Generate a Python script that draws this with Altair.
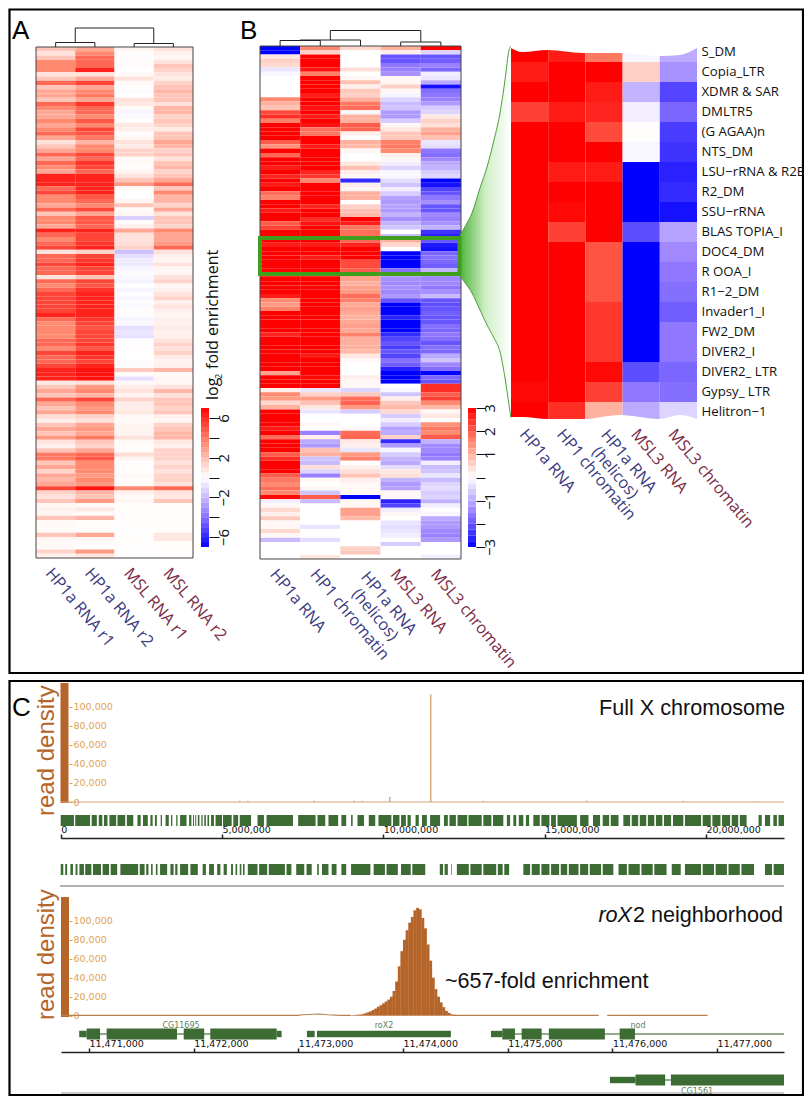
import altair as alt
import pandas as pd

W, H = 796, 1088
FX = alt.Scale(domain=[0, 812], range=[-8, 804], nice=False, zero=False)
FY = alt.Scale(domain=[0, 1105], range=[-8, 1097], nice=False, zero=False)
SANS = "Liberation Sans"
OPEN = "Open Sans"
DEJA = "DejaVu Sans"
BLUE_T, RED_T = "#3b3a80", "#7c2a44"
GREEN, BROWN, ORANGE = "#3d6b34", "#b5652a", "#dca352"
RAMP = ["#0000ff", "#9a80ff", "#ffffff", "#ff8a70", "#ff0000"]
HELI = "HP1a RNA (helicos)"

# ---------- panel A values (log2 fold enrichment) ----------
a_cols = ["HP1a RNA r1", "HP1a RNA r2", "\u00a0MSL RNA r1", "\u00a0\u00a0MSL RNA r2"]
a1 = [2,1,2,4,4,4, 1,2,5,2,3,3, 2,5,4,3,3,4, 3,4,5,3,1,2, 3,5,3,5,4,3, 7,7,7,5,6,4, 4,3,5,2,4,4,
      3,7,5,4,5,6, 1,5,5,6,5,5, 1,5,4,5,6,6, 6,6,6,7,5,4, 4,4,4, 5,5,4,6,5,5,6,7,7,7,
      .7,2,3,2,5,3,2,3,1.2,.5,2,3,2,3.5,1,.5,2,4.5,4.5,2,3,1.5,3,2.5,3,6,1.5,1,2,
      .3,.5,.3,2,.2,.2,.2,2,.3,.2,.2,1.5,.5]
a2 = [3,4,5,5,5,7, 1,3,6,3,4,4.5, 3,6.5,5,5,4,5.5, 4,6,5.5,4.5,2.5,4, 4,6,5,6.5,6,5, 7,7,7,7,7,5.5,
      5,4,6,3,5.5,5.5, 5,7,6,6,6.5,7, 1.5,6,6.5,7,6,6, 2,6,5.5,6.5,7,7, 7,7,7,7,6.5,6, 5.5,6,6,
      6,6.5,5.5,7,6.5,6,7,7.5,7.5,7.5,
      1,3.5,4,2.5,6,4,3.5,4,1.5,1,3,3.5,3,4.5,2,1.5,3,5,5.5,4,4,4,3.5,4,3.5,7.5,2.5,2,3.5,
      .2,.8,.2,2.5,.1,.1,.1,3,.3,.1,.1,3.5,.8]
a3 = [.3,.1,-.1,.1,.1,0, .2,1,.2,.1,-.1,0, 1,.8,.2,-.3,-.2,.1, .8,.5,.1,.3,1,.6, 1.5,1.5,.2,.2,.1,.4,
      1,2,3.5,.2,0,0, .3,2,.2,.3,-1.5,.1, .5,3,1,1,1.2,1.5, -2,-1,-.6,-.7,-.3,-.1, -.2,-.4,0,-.3,-.1,-.3,
      -.1,-.2,.1,-.1,-.3,-.2, -1,-.8,-1, -.1,0,.1,0,0,.1,-.1,1.8,.1,-1,
      .2,.6,1,.4,1.5,.6,.6,.8,.2,.2,.3,.4,.4,1,.2,.1,.1,1.2,.3,.1,.1,.1,.2,.1,.2,4,.5,.2,.3,
      .1,.1,.1,.1,.05,.05,.05,.05,.05,.05,.05,.05,.05]
a4 = [1,.5,.3,1,2,1.5, 1,.7,1.5,2,2.5,2, 2,1,2.5,2.5,1.5,2, 1.5,.7,2,2,3,2.5, 1.5,2,1,2,2.5,1.5,
      2,3,5,2,4,2.5, 2.5,1.5,3,1,2,2, 1.5,4,3,3,3.5,5, 1,.5,.3,1,.3,.3, 1,1.5,.3,.5,1,1.5,
      .5,1,.5,.3,.5,.5, .7,.5,.5, 1,1.5,1,1.5,.7,.4,.5,2.5,.2,.3,
      .3,1,2.5,1,2,2,1.5,2,.5,.3,1.5,2,2.5,2.5,.8,.5,1.5,1.5,1.5,1,1.5,1,1.5,1.5,1,5,1,.8,2,
      .1,.1,.1,.1,.1,.1,.1,.8,.8,.1,.1,.1,.1]
a_vals = [a1, a2, a3, a4]

# ---------- panel B values ----------
b_cols = ["HP1a RNA", "HP1 chromatin", HELI, "MSL3 RNA", "MSL3 chromatin"]
b1 = [-3,-3,.3,.6,.5,-.3,-.1,0,0,0, 0,0,1.5,1,.8,2.2,2.5,1.6,3,3, 3,3,2,1.4,3,1.9,3,3,2.7,3,
      2.6,3,2.7,3,1.8,1.6,3,3,2.7,3, 3,2,2.3,3,3,3,2.7,3,3,3, 3,3,3,3,3,3,3,3,2.7,1.5,
      1.3,1.6,3,3,3,3,3,2.6,3,3, 3,3,3,3,3,3,1.2,3,3,3, .2,1.5,1.3,.5,1,3,3,3,3,2.7,
      3,1.8,3,3,3,2,2.5,3,3,3, 2,1.7,1.5,1.8,1.5,2.9,-.2,.1,.5,.2, .7,.1,.1,.5,.1,-.8,0,0,0,0]
b2 = [1.5,.6,3,3,3,2.8,1.6,3,3,3, 3,2.7,3,3,2.8,3,2.7,3,2.8,1.8, 1.7,3,3,2.7,3,3,3,3,3,2.6,
      2.4,1.5,3,3,3,3,3,2.6,3,3, 2.5,2.8,3,3,3,3,2.7,3,3,2.7, 3,3,3,3,3,3,3,3,3,3,
      3,3,3,3,3,3,3,3,3,3, 3,3,2.7,3,3,3,3,2.9,3,3, -.3,.6,1.3,.8,.3,-.3,0,0,.1,0,
      -1.5,.2,-1,-1.2,.8,1,-.7,-.8,.4,-.5, -1.5,.1,0,.1,-.7,2,-.8,0,0,0, 0,0,-.3,0,0,-.4,0,0,0,.3]
b3 = [.5,0,0,0,0,.4,0,.1,.8,.2, .7,.6,1,1.7,1.8,-.1,1,1,2,1.9, .2,0,1,.9,.1,0,0,.3,.8,.2,
      .1,-2.5,.2,.1,1,1,0,.6,.8,.9, 3,2.7,1.7,1.8,1.8,1.9,2.6,3,3,3, 2.2,2.2,2,1.5,1.2,1,1.2,1.3,1.8,1.6,
      1.1,1.2,1.1,1,1.1,1.2,1.1,1.6,1,1, 1,.9,.3,.1,0,0,0,.2,.1,.1, -.5,.7,1.8,1.9,1.3,-.6,0,0,0,.1,
      1.8,1.9,.3,.2,-.3,1.3,1.6,0,.2,.4, .8,.2,.1,.1,.1,-3,.1,.1,1.2,1.2, .9,0,0,0,0,0,0,.6,.7,0]
b4 = [1,.2,-2,-2,-1.6,-1.5,-1.3,.1,.1,.6, .1,-.1,-.5,-.8,-.7,-1.2,-1.2,-.6,.1,.3, .7,.7,1.6,1.7,1.5,.2,.1,-.2,-.5,-.1,
      -.1,-.4,-.7,-.2,-.6,-1.1,-1.2,-1.1,-1.2,-.9, -1.3,-.9,-.7,0,-.8,1,.5,0,-3,-3, -3,-3,-1.7,-1.2,-1.3,-1.4,-1.3,-1.4,-1.2,-2,
      -3,-3,-3,-2.6,-3,-3,-3,-2.5,-2.2,-2, -2.3,-2,-2.2,-1.7,-1.9,-2.6,-3,-3,-3,0, -.1,-.7,.2,.7,.9,.5,-.6,-.2,-.6,-1.1,
      -1,.6,-2.5,-1.2,-.1,-.6,-.9,-1,-.4,.3, .4,-.9,-1.2,-1.1,.1,.1,-2.6,-2.2,-.2,.1, 0,-.3,-.4,-.3,-.2,0,-.6,0,0,0]
b5 = [3,-.5,-2,-1.9,-1.5,-1.8,-.2,-.3,-1,-2.8, -1.7,-1.6,-1.5,-1.2,-.6,-.5,.3,.6,.4,1, 1.2,.8,-.3,-.4,-1.6,-1.7,-1.4,-1,-.9,-.6,
      -.5,-3,-2.8,-2.2,-2,-1.6,-1.3,-2,-2,-1.4, -1.5,-1.3,-.9,-2.4,-2.6,-2,-2.7,-2.8,-1.8,-1.7, -1.8,-1.9,-.9,-1.6,-1.4,-1.4,-1.6,-1.3,-.8,-2,
      -2.1,-2,-1.9,-2,-2,-1.7,-1.8,-1.6,-1.7,-2, -1.7,-1.8,-1,-.7,-1.4,-1.7,-3,-1.8,-2,2.5, 2.5,2,2.3,1.5,.9,.1,.3,0,1.4,1.7,
      1.5,2,-.9,-1.4,-1.4,-1.6,-1.5,-.2,-.8,-.7, -.3,-.8,-.5,-.4,-.6,-.5,-.9,-.2,0,-.1, -1,-1.2,-1.2,-1.4,-1.5,-1.2,0,0,0,-.2]
b_vals = [b1, b2, b3, b4, b5]

# ---------- zoomed inset values ----------
z_rows = ["S_DM", "Copia_LTR", "XDMR & SAR", "DMLTR5", "(G AGAA)n", "NTS_DM", "LSU\u2212rRNA & R2B", "R2_DM", "SSU\u2212rRNA",
          "BLAS TOPIA_I", "DOC4_DM", "R OOA_I", "R1\u22122_DM", "Invader1_I", "FW2_DM", "DIVER2_I", "DIVER2_  LTR", "Gypsy_ LTR", "Helitron\u22121"]
z1 = [3,2.7,3,2.3,3,3,3,3,3,3,3,3,3,3,3,3,3,2.9,3]
z2 = [2.7,3,3,2.7,3,3,2.7,3,2.9,2.3,3,3,3,3,3,3,3,3,2.5]
z3 = [1.7,3,2.7,2.6,2.2,3,2.7,3,3,3,2.1,2.1,2.1,2.4,2.4,2.4,2.9,2.3,1]
z4 = [-.1,.6,-.9,-.2,.03,-.1,-3,-3,-3,-2.1,-3,-3,-3,-3,-3,-3,-2.1,-1.6,-1]
z5 = [-1,-1.3,-2.2,-1.8,-2.3,-2.4,-2.6,-2.5,-2.8,-1.1,-1.4,-1.6,-1.7,-1.9,-1.6,-1.6,-1.8,-1.7,-.5]
z_vals = [z1, z2, z3, z4, z5]
wave_x = [511, 522, 548, 583, 620, 660, 680, 697]
wave_top = [48, 52, 50, 53, 53, 56, 55, 48]
wave_bot = [417, 417, 419, 419, 415, 419, 415, 419]

# ---------- fan from the green box to the inset ----------
fan_x = [460, 466, 472, 480, 487, 494, 500, 505, 509, 511]
fan_top = [235, 225, 213, 188, 167, 140, 113, 80, 50, 46]
fan_bot = [276, 284, 293, 310, 325, 338, 352, 378, 405, 418]

# ---------- tracks: full X chromosome ----------
x_ticks = [0, 5000000, 10000000, 15000000, 20000000]
y_ticks = [0, 20000, 40000, 60000, 80000, 100000]
spike_pos = [5.55, 5.8, 7.85, 9.1, 9.35, 10.2, 11.47, 13.1, 16.3, 19.3, 21.6]
spike_h = [1200, 1200, 1200, 1200, 1200, 5500, 113000, 1200, 1500, 1200, 800]
t1_s = [0,.45,.96,1.18,1.34,1.51,1.76,2.05,2.38,2.55,2.78,2.92,3.1,3.25,3.42,3.58,3.7,3.98,4.1,4.17,4.25,4.36,4.45,4.55,4.66,4.8,5.03,5.35,5.55,
        6.1,6.38,7.36,7.96,8.3,8.7,9.0,9.2,9.55,9.85,10.3,10.55,10.75,11,11.2,11.45,11.88,12.05,12.3,12.64,13.1,13.4,13.83,14.03,14.2,14.42,14.65,
        14.9,15.2,15.4,16.1,16.5,16.8,17.05,17.44,17.7,17.95,18.2,18.45,18.7,18.98,19.35,19.9,20.2,20.5,20.8,21.05,21.63,21.83,22.09,22.25]
t1_e = [.41,.91,1.12,1.29,1.45,1.72,2.0,2.25,2.48,2.7,2.85,2.98,3.14,3.35,3.46,3.62,3.9,4.05,4.13,4.2,4.3,4.4,4.5,4.6,4.75,5.0,5.3,5.5,5.9,
        6.3,7.2,7.9,8.2,8.6,8.85,9.05,9.4,9.75,10.25,10.5,10.7,10.85,11.1,11.35,11.76,12.0,12.25,12.6,13.05,13.35,13.72,13.93,14.12,14.34,14.52,14.85,
        15.15,15.35,16.0,16.36,16.72,17.0,17.29,17.65,17.9,18.15,18.4,18.65,18.92,19.3,19.85,20.15,20.45,20.75,21.0,21.26,21.73,21.99,22.2,22.42]
t2_s = [0,.14,.3,.46,.58,.76,1,1.3,1.55,1.85,2.45,2.65,2.8,2.95,3.08,3.4,3.55,3.7,4.02,4.4,4.6,4.85,5.05,5.28,5.42,5.55,5.65,5.8,6.15,6.45,7,7.3,7.62,
        7.95,8.1,8.4,8.7,9,9.7,10.1,10.55,10.9,11.75,11.9,12.1,12.28,12.7,13.1,13.55,13.75,14.34,14.6,14.9,15.2,15.5,15.75,16.1,16.4,16.8,17.29,17.6,18,18.4,
        18.94,19.35,19.9,20.3,20.7,21.1,21.83,22.1]
t2_e = [.08,.2,.38,.52,.72,.95,1.25,1.5,1.75,2.4,2.6,2.72,2.85,3,3.3,3.5,3.62,3.95,4.25,4.5,4.75,4.95,5.15,5.34,5.47,5.6,5.7,6.1,6.4,6.95,7.15,7.55,7.78,
        8,8.3,8.55,8.85,9.6,10.05,10.45,10.85,11.3,11.85,12,12.12,12.65,13.05,13.5,13.7,13.9,14.55,14.85,15.15,15.45,15.7,16.05,16.35,16.75,17.13,17.55,17.95,18.35,18.78,
        19.22,19.85,20.25,20.65,21.05,21.49,22.05,22.42]

# ---------- tracks: roX2 neighbourhood ----------
roi_ticks = [11471000, 11472000, 11473000, 11474000, 11475000, 11476000, 11477000]
roi_dom = [11470733, 11477639]
bin_start = [11473500+25*i for i in range(0, 41)]
bin_val = [.5,.7,1,1.2,1.5,2.5,3.5,4.5,6,7.5,9.5,11,13,15,17,20,26,36,52,68,80,90,98,104,111,113.5,112,103,92,75,58,40,28,20,14,9,5,3,1.5,.8,.4]
low_pos = [11470733, 11472990, 11473050, 11473200, 11473280, 11473400, 11473500]
low_val = [300, 400, 1000, 1800, 1000, 300, 400]
flat_s = [11474480, 11475950]
flat_e = [11475870, 11476910]
utr_s = [11470907, 11472793, 11473082, 11473178, 11474840, 11475976]
utr_e = [11470978, 11472840, 11473156, 11474457, 11474948, 11476221]
utr_c = [1034, 1034, 1034, 1034, 1034, 1080]
cds_s = [11470978, 11471169, 11471905, 11472159, 11474948, 11475133, 11475393, 11476069, 11476221, 11476559]
cds_e = [11471106, 11471841, 11472101, 11472793, 11475069, 11475324, 11475928, 11476215, 11476504, 11477639]
cds_c = [1034, 1034, 1034, 1034, 1034, 1034, 1034, 1034, 1080, 1080]
intron_s = [11470978, 11474948, 11476221]
intron_e = [11472793, 11477639, 11476559]
intron_c = [1034, 1034, 1080]


def cscale(dom):
    return alt.Scale(domain=[-dom, -dom/2, 0, dom/2, dom], clamp=True, range=RAMP, interpolate="rgb")


def col_axis(offset_y, pad, size):
    return alt.Axis(orient="bottom", offset=-(H - offset_y), domain=False, ticks=False,
                    labelAngle=50, labelAlign="left", labelBaseline="middle", labelPadding=pad,
                    labelOffset=-7, labelFontSize=size, labelFont=OPEN, labelLimit=0,
                    labelExpr="datum.value=='%s' ? '' : datum.value" % HELI,
                    labelColor=alt.expr("indexof(datum.value,'MSL')>=0 ? '%s' : '%s'" % (RED_T, BLUE_T)))


def heat(cols, vals, x_rng, y_rng, dom, lab_pad, lab_size):
    recs = [dict(c=c, r=i, v=v) for c, col in zip(cols, vals) for i, v in enumerate(col)]
    n = max(len(col) for col in vals)
    return alt.Chart(pd.DataFrame(recs)).mark_rect().encode(
        x=alt.X("c:N", sort=None, title=None,
                scale=alt.Scale(domain=cols, range=x_rng, paddingInner=0, paddingOuter=0),
                axis=col_axis(y_rng[1], lab_pad, lab_size)),
        y=alt.Y("r:O", sort=None, title=None, axis=None,
                scale=alt.Scale(domain=list(range(n)), range=y_rng, paddingInner=0, paddingOuter=0)),
        color=alt.Color("v:Q", legend=None, scale=cscale(dom)))


def txt(text, x, y, **kw):
    return alt.Chart(pd.DataFrame({"t": [text], "x": [x], "y": [y]})).mark_text(**kw).encode(
        x=alt.X("x:Q", scale=FX, axis=None), y=alt.Y("y:Q", scale=FY, axis=None), text="t:N")


def box(x, x2, y, y2, color, sw):
    d = pd.DataFrame({"x": [x], "x2": [x2], "y": [y], "y2": [y2]})
    return alt.Chart(d).mark_rect(fill="transparent", stroke=color, strokeWidth=sw).encode(
        x=alt.X("x:Q", scale=FX, axis=None), x2="x2:Q", y=alt.Y("y:Q", scale=FY, axis=None), y2="y2:Q")


def solid(x, x2, y, y2, color):
    d = pd.DataFrame({"x": [x], "x2": [x2], "y": [y], "y2": [y2]})
    return alt.Chart(d).mark_rect(color=color).encode(
        x=alt.X("x:Q", scale=FX, axis=None), x2="x2:Q", y=alt.Y("y:Q", scale=FY, axis=None), y2="y2:Q")


def hline(x, x2, y, color, sw):
    d = pd.DataFrame({"x": [x], "x2": [x2], "y": [y]})
    return alt.Chart(d).mark_rule(color=color, strokeWidth=sw).encode(
        x=alt.X("x:Q", scale=FX, axis=None), x2="x2:Q", y=alt.Y("y:Q", scale=FY, axis=None))


def dendro(merges, n, x_rng, base):
    recs = []
    for k, (l, r, h, hl, hr) in enumerate(merges):
        for i, (px, ph) in enumerate([(l, hl), (l, h), (r, h), (r, hr)]):
            recs.append(dict(seg=k, i=i, px=px, ph=ph))
    return alt.Chart(pd.DataFrame(recs)).mark_line(color="#222222", strokeWidth=1).encode(
        x=alt.X("px:Q", axis=None, scale=alt.Scale(domain=[0, n], range=x_rng, nice=False, zero=False)),
        y=alt.Y("ph:Q", axis=None, scale=alt.Scale(domain=[0, 20], range=[base, base - 20], nice=False, zero=False)),
        detail="seg:N", order="i:Q")


def colorbar(edges, dom, x_rng, y_rng, ticks, shown, tick_size, pad):
    recs = [dict(c="bar", lo=a, hi=b, mid=(a + b) / 2) for a, b in zip(edges[:-1], edges[1:])]
    shown_expr = "indexof(%s, datum.value)>=0 ? (datum.value<0 ? '\u2212' : '') + abs(datum.value) : ''" % str(shown)
    return alt.Chart(pd.DataFrame(recs)).mark_rect().encode(
        x=alt.X("c:N", axis=None, title=None, scale=alt.Scale(domain=["bar"], range=x_rng, paddingInner=0, paddingOuter=0)),
        y=alt.Y("lo:Q", title=None,
                scale=alt.Scale(domain=[-dom, dom], range=y_rng, nice=False, zero=False),
                axis=alt.Axis(orient="right", offset=-(W - x_rng[1]), values=ticks, domain=False,
                              tickColor="#111111", tickSize=tick_size, labelAngle=-90, labelAlign="center",
                              labelBaseline="middle", labelPadding=pad, labelFontSize=15, labelFont=OPEN,
                              labelColor="#111111", labelExpr=shown_expr, labelOverlap=False)),
        y2="hi:Q",
        color=alt.Color("mid:Q", legend=None, scale=cscale(dom)))


def density_axis():
    return alt.Axis(orient="right", offset=-(W - 61), values=y_ticks, format=",d", domain=False,
                    tickColor=ORANGE, tickSize=3, labelPadding=1, labelColor=ORANGE,
                    labelFont=DEJA, labelFontSize=9.5, labelOverlap=False)


def scale_axis(vals, y, size):
    return alt.Axis(orient="top", offset=-(y - 8), values=vals, format=",d", domainColor="#222222", domainWidth=1.3,
                    tickColor="#222222", tickSize=4, tickWidth=1.5, labelAlign="left", labelPadding=0, labelFont=DEJA,
                    labelFontSize=size, labelColor="#111111", labelOverlap=False, labelFlush=False)


layers = []
# outer frames (their outer edges sit at the page margin)
layers.append(box(9.5, 803, 9.5, 673, "#000000", 2.2))
layers.append(box(9.5, 803, 681, 1095, "#000000", 2.2))
for t, x, y in [("A", 12, 31), ("B", 240, 31), ("C", 12, 708)]:
    layers.append(txt(t, x, y, font=SANS, fontSize=26, color="#000000", align="left"))

# panel A
layers.append(heat(a_cols, a_vals, [28, 185], [39, 550], 8, 12, 16.2))
layers.append(box(36, 193, 47, 558, "#444444", 1))
layers.append(dendro([(.5, 1.5, 4.5, 0, 0), (2.5, 3.5, 3.5, 0, 0), (1.0, 3.0, 19, 4.5, 3.5)], 4, [28, 185], 39))
layers.append(colorbar([-7, -6.5, -6, -5.5, -5, -4.5, -4, -3.5, -3, -2.5, -2, -1.5, -1, -.5, 0, .5, 1, 1.5, 2, 2.5, 3, 3.5, 4, 4.5, 5, 5.5, 6, 6.5, 7],
                       7, [193, 201], [539, 400], [-6, -4, -2, 0, 2, 4, 6], [-6, -2, 2, 6], 10, 4))
layers.append(txt("log", 218, 400, font=OPEN, fontSize=16, angle=270, align="left", baseline="alphabetic", color="#111111"))
layers.append(txt("2", 222, 379, font=OPEN, fontSize=9, angle=270, align="left", baseline="alphabetic", color="#111111"))
layers.append(txt("fold enrichment", 218, 369, font=OPEN, fontSize=16, angle=270, align="left", baseline="alphabetic", color="#111111"))

# panel B
layers.append(heat(b_cols, b_vals, [252, 453], [38, 551], 3, 12, 16.2))
layers.append(box(260, 461, 46, 559, "#444444", 1))
layers.append(dendro([(.5, 1.5, 5.5, 0, 0), (1.0, 2.5, 6, 5.5, 0), (3.5, 4.5, 4, 0, 0), (1.75, 4.0, 15.5, 6, 4)], 5, [252, 453], 38))
layers.append(colorbar([-3, -2.75, -2.5, -2.25, -2, -1.75, -1.5, -1.25, -1, -.75, -.5, -.25, 0, .25, .5, .75, 1, 1.25, 1.5, 1.75, 2, 2.25, 2.5, 2.75, 3],
                       3, [460, 468], [539, 400], [-3, -2, -1, 0, 1, 2, 3], [-3, -1, 1, 2, 3], 9, 4))

# fan and inset
fan = pd.DataFrame({"x": fan_x, "t": fan_top, "b": fan_bot})
layers.append(alt.Chart(fan).mark_area(interpolate="monotone", color=alt.Gradient(
    gradient="linear", x1=0, x2=1, y1=0, y2=0,
    stops=[alt.GradientStop(color="#4fb33a", offset=0), alt.GradientStop(color="#cfeec6", offset=.5), alt.GradientStop(color="#ffffff", offset=1)])).encode(
    x=alt.X("x:Q", scale=FX, axis=None), y=alt.Y("t:Q", scale=FY, axis=None), y2="b:Q"))
for f in ["t", "b"]:
    layers.append(alt.Chart(fan).mark_line(interpolate="monotone", color="#4f9f3c", strokeWidth=1).encode(
        x=alt.X("x:Q", scale=FX, axis=None), y=alt.Y(f + ":Q", scale=FY, axis=None)))
layers.append(box(260, 459.5, 238, 274, "#3f9f1c", 4))

recs = [dict(c=c, r=r, v=v) for c, col in zip(b_cols, z_vals) for r, v in zip(z_rows, col)]
layers.append(alt.Chart(pd.DataFrame(recs)).mark_rect().encode(
    x=alt.X("c:N", sort=None, title=None, scale=alt.Scale(domain=b_cols, range=[503, 689], paddingInner=0, paddingOuter=0),
            axis=col_axis(414, 9, 16.2)),
    y=alt.Y("r:N", sort=None, title=None, scale=alt.Scale(domain=z_rows, range=[34, 414], paddingInner=0, paddingOuter=0),
            axis=alt.Axis(orient="right", offset=-(W - 689), domain=False, ticks=False, labelPadding=4, labelFont=OPEN,
                          labelFontSize=13.2, labelColor="#111111", labelLimit=0, labelOverlap=False)),
    color=alt.Color("v:Q", legend=None, scale=cscale(3))))
wave = pd.DataFrame({"x": wave_x, "t": wave_top, "b": wave_bot, "top_edge": [40] * len(wave_x), "bot_edge": [425] * len(wave_x)})
layers.append(alt.Chart(wave).mark_area(interpolate="monotone", color="#ffffff").encode(
    x=alt.X("x:Q", scale=FX, axis=None), y=alt.Y("top_edge:Q", scale=FY, axis=None), y2="t:Q"))
layers.append(alt.Chart(wave).mark_area(interpolate="monotone", color="#ffffff").encode(
    x=alt.X("x:Q", scale=FX, axis=None), y=alt.Y("b:Q", scale=FY, axis=None), y2="bot_edge:Q"))
for x1, y1, x2, y2 in [(364, 574, 355, 591), (604, 432, 595, 449)]:
    layers.append(txt("HP1a RNA", x1, y1, font=OPEN, fontSize=16.2, angle=50, align="left", baseline="middle", color=BLUE_T))
    layers.append(txt("(helicos)", x2, y2, font=OPEN, fontSize=16.2, angle=50, align="left", baseline="middle", color=BLUE_T))

# panel C: full chromosome
CX = alt.Scale(domain=[0, 22420000], range=[52.7, 776], nice=False, zero=False)
CY = alt.Scale(domain=[0, 125000], range=[794, 675], nice=False, zero=False)
layers.append(solid(60.5, 68.5, 683, 803, BROWN))
layers.append(alt.Chart(pd.DataFrame({"p": [v * 1e6 for v in spike_pos], "h": spike_h, "z": [0] * len(spike_h)})).mark_rule(color="#d3a679", strokeWidth=1.4).encode(
    x=alt.X("p:Q", scale=CX, title=None, axis=scale_axis(x_ticks, 838, 9.5)),
    y=alt.Y("z:Q", scale=CY, title=None, axis=density_axis()), y2="h:Q"))
layers.append(hline(61, 784, 802, "#d3a679", 1.2))
for s, e, top in [(t1_s, t1_e, 815), (t2_s, t2_e, 864)]:
    d = pd.DataFrame({"s": [v * 1e6 for v in s], "e": [v * 1e6 for v in e[:len(s)]], "t": [top] * len(s), "b": [top + 11] * len(s)})
    layers.append(alt.Chart(d).mark_rect(color=GREEN).encode(
        x=alt.X("s:Q", scale=CX, axis=None), x2="e:Q", y=alt.Y("t:Q", scale=FY, axis=None), y2="b:Q"))
layers.append(hline(60, 784, 886, "#666666", 1))
layers.append(txt("Full X chromosome", 785, 709, font=SANS, fontSize=21.6, align="right", color="#111111"))
layers.append(txt("read density", 47, 816, font=SANS, fontSize=24, angle=270, align="left", color=BROWN))
layers.append(txt("read density", 47, 1020, font=SANS, fontSize=24, angle=270, align="left", color=BROWN))

# panel C: roX2 neighbourhood
RX = alt.Scale(domain=roi_dom, range=[53, 776], nice=False, zero=False)
RY = alt.Scale(domain=[0, 125000], range=[1007.7, 889], nice=False, zero=False)
layers.append(solid(61, 69, 897, 1017, BROWN))
layers.append(alt.Chart(pd.DataFrame({"p": low_pos, "h": low_val})).mark_line(color="#b9814f", strokeWidth=1.2).encode(
    x=alt.X("p:Q", scale=RX, axis=None), y=alt.Y("h:Q", scale=RY, axis=None)))
flat = pd.DataFrame({"s": flat_s, "e": flat_e, "h": [300, 300]})
layers.append(alt.Chart(flat).mark_rule(color="#b9814f", strokeWidth=1.2).encode(
    x=alt.X("s:Q", scale=RX, axis=None), x2="e:Q", y=alt.Y("h:Q", scale=RY, axis=None)))
bins = pd.DataFrame({"s": bin_start, "e": [v + 28 for v in bin_start], "h": [v * 1000 for v in bin_val]})
layers.append(alt.Chart(bins).mark_rect(color=BROWN).encode(
    x=alt.X("s:Q", scale=RX, title=None, axis=scale_axis(roi_ticks, 1052, 9.5)), x2="e:Q",
    y=alt.Y("h:Q", scale=RY, title=None, axis=density_axis()), y2=alt.datum(0)))
d = pd.DataFrame({"s": intron_s, "e": intron_e, "y": intron_c})
layers.append(alt.Chart(d).mark_rule(color="#93ad8c", strokeWidth=2).encode(
    x=alt.X("s:Q", scale=RX, axis=None), x2="e:Q", y=alt.Y("y:Q", scale=FY, axis=None)))
d = pd.DataFrame({"s": utr_s, "e": utr_e, "t": [c - 3.2 for c in utr_c], "b": [c + 3.2 for c in utr_c]})
layers.append(alt.Chart(d).mark_rect(color=GREEN).encode(
    x=alt.X("s:Q", scale=RX, axis=None), x2="e:Q", y=alt.Y("t:Q", scale=FY, axis=None), y2="b:Q"))
d = pd.DataFrame({"s": cds_s, "e": cds_e, "t": [c - 5.5 for c in cds_c], "b": [c + 5.5 for c in cds_c]})
layers.append(alt.Chart(d).mark_rect(color=GREEN).encode(
    x=alt.X("s:Q", scale=RX, axis=None), x2="e:Q", y=alt.Y("t:Q", scale=FY, axis=None), y2="b:Q"))
for t, x, y in [("CG11695", 181, 1026), ("roX2", 384, 1026), ("nod", 638, 1026), ("CG1561", 697, 1092)]:
    layers.append(txt(t, x, y, font=DEJA, fontSize=8, align="center", color="#5f7f5a"))
layers.append(hline(61, 784, 1093, "#999999", 1.2))
layers.append(txt("2 neighborhood", 783, 916, font=SANS, fontSize=21.6, align="right", color="#111111"))
layers.append(txt("roX", 632, 916, font=SANS, fontSize=21.6, fontStyle="italic", align="right", color="#111111"))
layers.append(txt("~657-fold enrichment", 445, 982, font=SANS, fontSize=21.6, align="left", color="#111111"))

chart = alt.layer(*layers).resolve_scale(x="independent", y="independent", color="independent").properties(
    width=W, height=H, padding=0, autosize=alt.AutoSizeParams(type="none")
).configure_view(stroke=None).configure_axis(grid=False)

chart.save("out.html", embed_options={"renderer": "svg", "actions": False})
